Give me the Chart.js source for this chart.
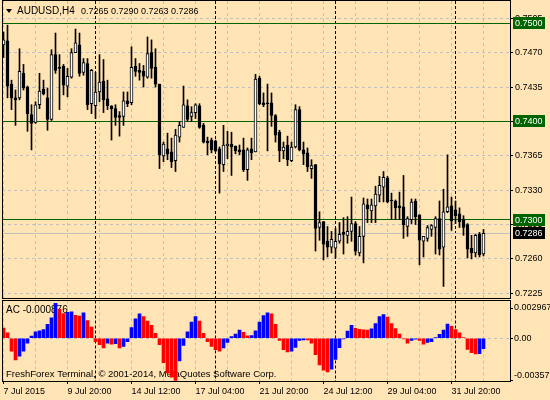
<!DOCTYPE html>
<html>
<head>
<meta charset="utf-8">
<script src="https://cdn.jsdelivr.net/npm/chart.js@4.4.0/dist/chart.umd.min.js"></script>
<style>
  html, body { margin: 0; padding: 0; background: #ffe4b5; }
  #wrap { position: relative; width: 550px; height: 400px; overflow: hidden; }
  #priceChart { position: absolute; left: 0; top: 0; }
  #acChart { position: absolute; left: 0; top: 299px; }
</style>
</head>
<body>
<div id="wrap">
  <canvas id="priceChart" width="550" height="299"></canvas>
  <canvas id="acChart" width="550" height="101"></canvas>
</div>
<script>
// AUDUSD H4, 7 Jul 2015 .. 3 Aug 2015
var symbol = 'AUDUSD,H4';

var opens = [
  0.7478,0.7482,0.7438,0.7424,0.7424,0.7449,0.7435,0.7407,0.7399,0.7417,
  0.7433,0.7424,0.7402,0.7468,0.7455,0.7456,0.7436,0.7445,0.7470,0.7478,
  0.7450,0.7459,0.7418,0.7416,0.7430,0.7441,0.7423,0.7416,0.7413,0.7406,
  0.7405,0.7421,0.7419,0.7456,0.7452,0.7451,0.7445,0.7470,0.7455,0.7438,
  0.7365,0.7372,0.7369,0.7360,0.7384,0.7394,0.7416,0.7405,0.7409,0.7416,
  0.7396,0.7380,0.7381,0.7380,0.7372,0.7356,0.7375,0.7377,0.7375,0.7371,
  0.7371,0.7351,0.7372,0.7369,0.7444,0.7419,0.7419,0.7419,0.7406,0.7389,
  0.7370,0.7376,0.7360,0.7374,0.7412,0.7371,0.7368,0.7352,0.7356,0.7292,
  0.7298,0.7278,0.7272,0.7271,0.7278,0.7287,0.7284,0.7288,0.7296,0.7266,
  0.7283,0.7315,0.7309,0.7314,0.7325,0.7333,0.7342,0.7320,0.7319,0.7314,
  0.7313,0.7293,0.7300,0.7319,0.7305,0.7278,0.7281,0.7290,0.7292,0.7301,
  0.7272,0.7308,0.7314,0.7310,0.7306,0.7300,0.7295,0.7271,0.7266,0.7285,
  0.7265
];
var highs = [
  0.7491,0.7498,0.7442,0.7432,0.7474,0.7458,0.7436,0.7417,0.7420,0.7449,
  0.7442,0.7434,0.7473,0.7490,0.7468,0.7458,0.7454,0.7474,0.7494,0.7490,
  0.7464,0.7464,0.7453,0.7450,0.7468,0.7463,0.7442,0.7416,0.7417,0.7410,
  0.7430,0.7430,0.7476,0.7464,0.7459,0.7457,0.7486,0.7483,0.7474,0.7438,
  0.7379,0.7388,0.7383,0.7392,0.7400,0.7436,0.7422,0.7415,0.7418,0.7418,
  0.7398,0.7384,0.7383,0.7381,0.7374,0.7396,0.7390,0.7389,0.7375,0.7376,
  0.7383,0.7373,0.7383,0.7448,0.7446,0.7429,0.7438,0.7429,0.7407,0.7391,
  0.7379,0.7385,0.7379,0.7417,0.7415,0.7379,0.7373,0.7361,0.7356,0.7308,
  0.7298,0.7293,0.7288,0.7291,0.7297,0.7302,0.7303,0.7323,0.7298,0.7293,
  0.7322,0.7321,0.7321,0.7334,0.7344,0.7349,0.7344,0.7327,0.7320,0.7328,
  0.7345,0.7303,0.7321,0.7321,0.7305,0.7283,0.7294,0.7295,0.7303,0.7319,
  0.7331,0.7366,0.7323,0.7319,0.7312,0.7304,0.7296,0.7284,0.7285,0.7287,
  0.7290
];
var lows = [
  0.7465,0.7424,0.7412,0.7396,0.7422,0.7432,0.7390,0.7371,0.7398,0.7413,
  0.7427,0.7391,0.7401,0.7449,0.7412,0.7427,0.7425,0.7444,0.7470,0.7446,
  0.7447,0.7412,0.7408,0.7403,0.7420,0.7409,0.7412,0.7381,0.7396,0.7385,
  0.7396,0.7415,0.7417,0.7446,0.7442,0.7435,0.7444,0.7444,0.7435,0.7352,
  0.7359,0.7361,0.7353,0.7349,0.7379,0.7394,0.7400,0.7400,0.7403,0.7393,
  0.7378,0.7366,0.7368,0.7369,0.7327,0.7349,0.7362,0.7345,0.7367,0.7366,
  0.7349,0.7340,0.7361,0.7369,0.7417,0.7415,0.7370,0.7395,0.7379,0.7359,
  0.7362,0.7355,0.7359,0.7373,0.7370,0.7356,0.7349,0.7342,0.7268,0.7279,
  0.7259,0.7262,0.7266,0.7261,0.7276,0.7265,0.7276,0.7278,0.7264,0.7263,
  0.7256,0.7297,0.7297,0.7297,0.7318,0.7318,0.7317,0.7300,0.7300,0.7300,
  0.7281,0.7283,0.7296,0.7295,0.7254,0.7262,0.7278,0.7283,0.7265,0.7264,
  0.7232,0.7307,0.7289,0.7296,0.7292,0.7284,0.7261,0.7260,0.7262,0.7262,
  0.7263
];
var closes = [
  0.7483,0.7436,0.7424,0.7422,0.7451,0.7434,0.7408,0.7398,0.7417,0.7431,
  0.7428,0.7402,0.7468,0.7452,0.7454,0.7437,0.7446,0.7470,0.7480,0.7449,
  0.7460,0.7417,0.7452,0.7430,0.7440,0.7422,0.7416,0.7413,0.7404,0.7404,
  0.7421,0.7418,0.7455,0.7451,0.7450,0.7446,0.7469,0.7454,0.7438,0.7366,
  0.7377,0.7367,0.7359,0.7386,0.7396,0.7417,0.7402,0.7409,0.7417,0.7394,
  0.7379,0.7378,0.7371,0.7370,0.7357,0.7376,0.7377,0.7374,0.7370,0.7369,
  0.7351,0.7371,0.7368,0.7443,0.7418,0.7417,0.7418,0.7406,0.7386,0.7370,
  0.7374,0.7361,0.7374,0.7412,0.7371,0.7367,0.7354,0.7355,0.7291,0.7297,
  0.7275,0.7272,0.7280,0.7278,0.7285,0.7285,0.7288,0.7296,0.7268,0.7283,
  0.7316,0.7311,0.7315,0.7326,0.7335,0.7343,0.7318,0.7319,0.7312,0.7312,
  0.7295,0.7301,0.7318,0.7303,0.7279,0.7283,0.7292,0.7294,0.7301,0.7270,
  0.7308,0.7313,0.7299,0.7304,0.7298,0.7292,0.7270,0.7266,0.7284,0.7264,
  0.7286
];

// Accelerator Oscillator
var acValues = [
  0.00086,0.00047,-0.00110,-0.00185,-0.00152,-0.00110,-0.00041,0.00019,0.00055,0.00063,
  0.00074,0.00119,0.00174,0.002967,0.00245,0.00210,0.00220,0.00225,0.00195,0.00188,
  0.00215,0.00150,0.00095,-0.00028,-0.00055,-0.00083,-0.00041,-0.00050,-0.00047,-0.00083,
  -0.00069,-0.00028,0.00091,0.00165,0.00207,0.00185,0.00146,0.00110,0.00041,-0.00055,
  -0.00207,-0.00295,-0.00331,-0.00357,-0.00193,-0.00061,0.00055,0.00138,0.00185,0.00146,
  0.00041,-0.00028,-0.00069,-0.00097,-0.00110,-0.00083,-0.00036,0.00014,0.00036,0.00069,
  0.00050,0.00020,0.00022,0.00063,0.00138,0.00193,0.00215,0.00207,0.00118,-0.00019,
  -0.00097,-0.00116,-0.00110,-0.00077,-0.00019,-0.00014,-0.00015,-0.00041,-0.00140,-0.00226,
  -0.00270,-0.00285,-0.00262,-0.00179,-0.00080,-0.00006,0.00061,0.00110,0.00085,0.00075,
  0.00072,0.00070,0.00080,0.00124,0.00185,0.00200,0.00180,0.00124,0.00083,0.00036,
  -0.00006,-0.00041,-0.00019,-0.00008,-0.00019,-0.00050,-0.00036,-0.00028,0.00006,0.00033,
  0.00069,0.00120,0.00102,0.00074,0.00047,0.00006,-0.00095,-0.00122,-0.00132,-0.00130,
  -0.000876
];

// one time label every 16 bars
var tickLabels = ['7 Jul 2015', '9 Jul 20:00', '14 Jul 12:00', '17 Jul 04:00',
                  '21 Jul 20:00', '24 Jul 12:00', '29 Jul 04:00', '31 Jul 20:00'];
var weekStarts = [23, 53, 83, 113];   // Monday 00:00 bars
var priceTicks = [0.7225, 0.7260, 0.7295, 0.7330, 0.7365, 0.7400, 0.7435, 0.7470, 0.7505];
var levels = [0.7500, 0.7400, 0.7300];
var bid = 0.7286;
var acTicks = [0.002967, 0, -0.00357];
var copyright = 'FreshForex Terminal, \u00a9 2001-2014, MetaQuotes Software Corp.';

var FONT = '"Liberation Sans", Arial, sans-serif';
var n = closes.length;

function gridTicks() {
  var t = [];
  for (var v = 0; v < n; v += 8) t.push({ value: v });
  return t;
}

function noPad(s) {
  s.paddingTop = 0; s.paddingBottom = 0; s.paddingLeft = 0; s.paddingRight = 0;
}

function drawSeparators(chart) {
  var ctx = chart.ctx, a = chart.chartArea, x = chart.scales.x;
  ctx.save();
  ctx.strokeStyle = '#000';
  ctx.lineWidth = 1;
  ctx.setLineDash([3, 2]);
  weekStarts.forEach(function (i) {
    var px = Math.floor(x.getPixelForValue(i)) + 0.5;
    ctx.beginPath();
    ctx.moveTo(px, a.top);
    ctx.lineTo(px, a.bottom);
    ctx.stroke();
  });
  ctx.restore();
}

function drawFrame(chart, top) {
  var ctx = chart.ctx, a = chart.chartArea;
  ctx.save();
  ctx.strokeStyle = '#000';
  ctx.lineWidth = 1;
  var l = Math.floor(a.left) + 0.5, r = Math.floor(a.right) + 0.5;
  var t = Math.floor(top) + 0.5, b = Math.floor(a.bottom) + 0.5;
  ctx.strokeRect(l, t, r - l, b - t);
  ctx.restore();
}

var pricePanel = {
  id: 'pricePanel',
  beforeDatasetsDraw: function (chart) {
    var ctx = chart.ctx, a = chart.chartArea, y = chart.scales.y;
    drawSeparators(chart);
    ctx.save();
    ctx.lineWidth = 1;
    levels.forEach(function (v) {
      var py = Math.floor(y.getPixelForValue(v)) + 0.5;
      ctx.strokeStyle = '#006400';
      ctx.beginPath(); ctx.moveTo(a.left, py); ctx.lineTo(a.right, py); ctx.stroke();
    });
    var by = Math.floor(y.getPixelForValue(bid)) + 0.5;
    ctx.strokeStyle = '#c0c0c0';
    ctx.beginPath(); ctx.moveTo(a.left, by); ctx.lineTo(a.right, by); ctx.stroke();

    // header
    ctx.fillStyle = '#000';
    ctx.beginPath(); ctx.moveTo(6, 9); ctx.lineTo(12, 9); ctx.lineTo(9, 13); ctx.closePath(); ctx.fill();
    ctx.textBaseline = 'alphabetic';
    ctx.font = '10px ' + FONT;
    ctx.fillText(symbol, 17, 14);
    var last = n - 1;
    ctx.font = '9px ' + FONT;
    ctx.fillText([opens[last], highs[last], lows[last], closes[last]].map(function (v) { return v.toFixed(4); }).join(' '), 81, 14);
    ctx.restore();
  },
  afterDraw: function (chart) {
    var ctx = chart.ctx, a = chart.chartArea, y = chart.scales.y;
    drawFrame(chart, 0);
    ctx.save();
    ctx.font = '9px ' + FONT;
    ctx.textBaseline = 'middle';
    var tags = levels.map(function (v) { return { v: v, bg: '#006400' }; });
    tags.push({ v: bid, bg: '#000' });
    tags.forEach(function (t) {
      var py = y.getPixelForValue(t.v);
      ctx.fillStyle = t.bg;
      ctx.fillRect(a.right + 3, Math.round(py) - 6, 32, 12);
      ctx.fillStyle = '#fff';
      ctx.fillText(t.v.toFixed(4), a.right + 5, Math.round(py) + 0.5);
    });
    ctx.restore();
  }
};

var acPanel = {
  id: 'acPanel',
  beforeDatasetsDraw: function (chart) {
    var ctx = chart.ctx;
    drawSeparators(chart);
    ctx.save();
    ctx.fillStyle = '#000';
    ctx.textBaseline = 'middle';
    ctx.font = '10px ' + FONT;
    ctx.fillText('AC ' + acValues[n - 1].toFixed(6), 6, 11);
    ctx.font = '9.5px ' + FONT;
    ctx.fillText(copyright, 6, 75.5);
    ctx.restore();
  },
  afterDraw: function (chart) {
    var ctx = chart.ctx, a = chart.chartArea, y = chart.scales.y;
    drawFrame(chart, a.top);
    ctx.save();
    ctx.fillStyle = '#000';
    ctx.strokeStyle = '#000';
    ctx.lineWidth = 1;
    ctx.font = '9px ' + FONT;
    ctx.textBaseline = 'middle';
    acTicks.forEach(function (v) {
      var py = y.getPixelForValue(v);
      var ty = Math.min(Math.max(py, a.top + 7.5), a.bottom);
      var ly = Math.min(Math.max(py, a.top + 7.5), a.bottom - 5.5);
      var tl = Math.floor(ty) + 0.5;
      ctx.beginPath(); ctx.moveTo(a.right, tl); ctx.lineTo(a.right + 3, tl); ctx.stroke();
      ctx.fillText(v === 0 ? '0.00' : String(v), a.right + 4, ly);
    });
    ctx.restore();
  }
};

var xRange = { min: -0.375, max: 126.625 };

new Chart(document.getElementById('priceChart'), {
  type: 'bar',
  data: {
    datasets: [
      {
        label: 'wick',
        data: opens.map(function (o, i) { return { x: i, y: [lows[i], highs[i]] }; }),
        backgroundColor: '#000',
        barThickness: 1,
        maxBarThickness: 1,
        grouped: false,
        order: 1
      },
      {
        label: 'body',
        data: opens.map(function (o, i) { return { x: i, y: [o, closes[i]] }; }),
        backgroundColor: opens.map(function (o, i) { return closes[i] > o ? '#ffffff' : '#000000'; }),
        borderColor: '#000',
        borderWidth: 1,
        borderSkipped: false,
        barThickness: 3,
        maxBarThickness: 3,
        minBarLength: 1,
        grouped: false,
        order: 0
      }
    ]
  },
  options: {
    responsive: false,
    animation: false,
    events: [],
    layout: { padding: { left: 2, top: 1, right: 0, bottom: 1 } },
    plugins: { legend: { display: false }, tooltip: { enabled: false } },
    scales: {
      x: {
        type: 'linear', min: xRange.min, max: xRange.max, offset: false,
        afterBuildTicks: function (s) { s.ticks = gridTicks(); },
        grid: { color: '#c0c0c0', drawTicks: false, offset: false },
        border: { display: false, dash: [3, 3] },
        ticks: { display: false },
        afterFit: function (s) { s.height = 0; noPad(s); }
      },
      y: {
        position: 'right', min: 0.722021, max: 0.752261,
        afterBuildTicks: function (s) { s.ticks = priceTicks.map(function (v) { return { value: v }; }); },
        grid: { color: '#c0c0c0', tickColor: '#000', tickLength: 3 },
        border: { display: false, dash: [3, 3] },
        ticks: { color: '#000', padding: 2, font: { family: FONT, size: 9 },
                 callback: function (v) { return v.toFixed(4); } },
        afterFit: function (s) { s.width = 40; noPad(s); }
      }
    }
  },
  plugins: [pricePanel]
});

new Chart(document.getElementById('acChart'), {
  type: 'bar',
  data: {
    datasets: [{
      label: 'AC',
      data: acValues.map(function (v, i) { return { x: i, y: v }; }),
      backgroundColor: acValues.map(function (v, i) { return i > 0 && v > acValues[i - 1] ? '#0000ff' : '#ff0000'; }),
      borderWidth: 0,
      barThickness: 3,
      maxBarThickness: 3
    }]
  },
  options: {
    responsive: false,
    animation: false,
    events: [],
    layout: { padding: { left: 2, top: 1.5, right: 0, bottom: 0 } },
    plugins: { legend: { display: false }, tooltip: { enabled: false } },
    scales: {
      x: {
        type: 'linear', min: xRange.min, max: xRange.max, offset: false,
        afterBuildTicks: function (s) { s.ticks = gridTicks(); },
        grid: {
          color: '#c0c0c0', tickLength: 3, offset: false,
          tickColor: function (c) { return c.tick && c.tick.value % 16 === 0 ? '#000' : 'rgba(0,0,0,0)'; }
        },
        border: { display: false, dash: [3, 3] },
        ticks: {
          color: '#000', padding: 2, align: 'start', autoSkip: false, maxRotation: 0, minRotation: 0,
          font: { family: FONT, size: 9 },
          callback: function (v) { return v % 16 === 0 ? tickLabels[v / 16] : ''; }
        },
        afterFit: function (s) { s.height = 19; noPad(s); }
      },
      y: {
        position: 'right', min: -0.003629, max: 0.003205,
        afterBuildTicks: function (s) { s.ticks = [{ value: 0 }]; },
        grid: { color: '#c0c0c0', drawTicks: false },
        border: { display: false, dash: [3, 3] },
        ticks: { display: false },
        afterFit: function (s) { s.width = 40; noPad(s); }
      }
    }
  },
  plugins: [acPanel]
});
</script>
</body>
</html>
